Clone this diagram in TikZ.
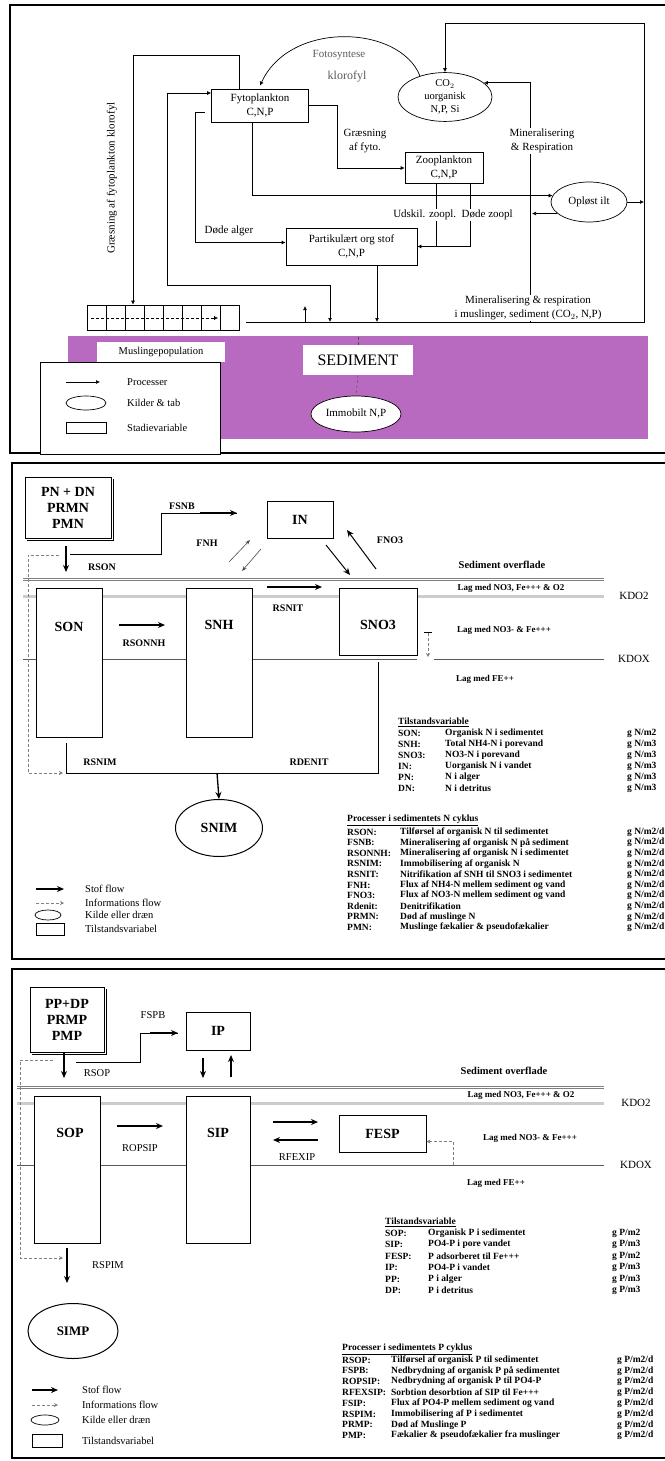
\documentclass[tikz,border=0pt]{standalone}
\usepackage{fontspec}
\setmainfont{Liberation Serif}
\usetikzlibrary{arrows.meta,calc,positioning,shapes.geometric}
\definecolor{sedcol}{RGB}{184,106,192}

\begin{document}
\begin{tikzpicture}[x=1pt,y=-1pt,
	lbl/.style={inner sep=0pt,align=center,font=\fontsize{11}{14}\selectfont},
	var/.style={draw,line width=0.7pt,fill=white,inner sep=0pt,align=center,font=\fontsize{11}{14}\selectfont},
	kilde/.style={draw,ellipse,line width=0.7pt,fill=white,inner sep=0pt,align=center},
	proc/.style={line width=0.7pt,-{Latex[length=4pt,width=4pt]}},
	flow/.style={line width=1.3pt,-{Stealth[length=7pt,width=6pt]}},
	info/.style={gray,densely dashed,line width=0.6pt,-{Stealth[length=4pt,width=4pt]}},
	tvar/.style={draw,line width=1pt,fill=white,inner sep=0pt},
	bnavn/.style={inner sep=0pt,align=center,font=\bfseries\fontsize{14}{16}\selectfont},
	rate/.style={inner sep=0pt,font=\bfseries\fontsize{10}{12}\selectfont},
	ratep/.style={inner sep=0pt,font=\fontsize{10.5}{12}\selectfont},
	lag/.style={inner sep=0pt,font=\bfseries\fontsize{9}{10}\selectfont},
	kd/.style={inner sep=0pt,font=\fontsize{11}{12}\selectfont},
	tab/.style={inner sep=0pt,anchor=west,font=\bfseries\fontsize{9.5}{10}\selectfont},
	leg/.style={inner sep=0pt,anchor=west,font=\fontsize{10.5}{12}\selectfont},
	surf/.style={gray,line width=3pt},
	kdo/.style={gray!40,line width=3pt},
	kdx/.style={gray!70!black,line width=0.8pt}]

\useasboundingbox (0,0) rectangle (664,1461);

%% ---------- model 1 ----------
\draw[line width=1.5pt] (10,5) rectangle (670,453);
\fill[sedcol] (68,336) rectangle (648,439);

\node[var,minimum width=97,minimum height=33] (fyto) at (260,105.5) {Fytoplankton\\C,N,P};
\node[kilde,minimum width=94,minimum height=48,font=\fontsize{10.5}{13}\selectfont] (co2) at (445,97) {CO$_2$\\uorganisk\\N,P, Si};
\node[var,minimum width=78,minimum height=31] (zoo) at (444,168) {Zooplankton\\C,N,P};
\node[kilde,minimum width=76,minimum height=40,font=\fontsize{11}{13}\selectfont] (ilt) at (589,202) {Opløst ilt};
\node[var,minimum width=131,minimum height=37] (part) at (351.5,246.5) {Partikulært org stof\\C,N,P};
\node[draw,line width=0.7pt,minimum width=152,minimum height=25,inner sep=0pt] (mus) at (163,317.5) {};
\foreach \k in {1,...,7} \draw[line width=0.5pt] (87+19*\k,305) -- (87+19*\k,330);
\draw[densely dashed,-{Latex[length=4pt,width=4pt]}] (91,318) -- (218,318);

\node[fill=white,minimum width=128,minimum height=20,inner sep=0pt,font=\fontsize{10.5}{12}\selectfont] (mpop) at (161,352) {Muslingepopulation};
\node[fill=white,minimum width=110,minimum height=30,inner sep=0pt,font=\fontsize{16}{18}\selectfont] (sed) at (358,360) {SEDIMENT};
\node[kilde,minimum width=90,minimum height=36,font=\fontsize{11}{13}\selectfont] (imm) at (356,414) {Immobilt N,P};
\draw[densely dashed,gray!60!black] (sed.north) -- (sed.north |- 0,336);
\draw[densely dashed,gray!60!black] (sed.south) -- (imm.north);

% forbindelser
\coordinate (rt) at (644,23);
\coordinate (rb) at (644,322);
\coordinate (ml) at (246,322);
\draw[line width=0.7pt] (ml) -- (rb) -- (rt);
\draw[proc] (rt) -- (co2.north |- rt) -- (co2.north);
\draw[proc] (co2.140) .. controls (400,25) and (290,20) .. ([yshift=3pt]fyto.north);
\draw[proc] (530,322) |- (co2.20);
\draw[proc] (ilt.east) -- (ilt.east -| rt);
\draw[proc] (ilt.200) -- (ilt.200 -| 532,0);
\draw[proc] ([xshift=-8pt]fyto.south) |- (ilt.170);
\draw[proc] (fyto.east) -| (337,168) -- (zoo.west);
\draw[line width=0.7pt] (zoo.south -| 436,0) -- (436,247);
\draw[proc] (zoo.south -| 470,0) |- (part.east);
\draw[line width=0.7pt] (195,112) -- (205,112);
\draw[proc] (195,112) |- ([yshift=4pt]part.west);
\draw[proc] (part.south -| 377,0) -- (377,322);
\coordinate (ll) at (167,93);
\draw[proc] (ll) -- (fyto.west |- ll);
\draw[proc] (ll) |- (330,285) -- (330,322);
\draw[proc] (fyto.north -| 239,0) |- (133,55) -- (mus.north -| 133,0);
\draw[proc] (305,322) -- (305,306);

\node[lbl,text=gray!70!black] (foto) at (339,55) {Fotosyntese};
\node[lbl,text=gray!70!black,font=\fontsize{12}{14}\selectfont] (klor) at (347,77) {klorofyl};
\node[lbl] (grae) at (365,141) {Græsning\\af fyto.};
\node[lbl,fill=white,inner sep=1pt] (mres) at (542,141) {Mineralisering\\\& Respiration};
\node[lbl,fill=white,inner sep=1pt] (udsk) at (453,215) {Udskil. zoopl.\ \ Døde zoopl};
\node[lbl] (dalg) at (229,231) {Døde alger};
\node[lbl,rotate=90] (grfk) at (112,178) {Græsning af fytoplankton klorofyl};
\node[lbl,fill=white,inner sep=1pt] (mmus) at (528,308) {Mineralisering \& respiration\\i muslinger, sediment (CO$_2$, N,P)};

% signaturer
\node[draw,fill=white,line width=0.7pt,minimum width=180,minimum height=92,anchor=north west] (leg1) at (40,362) {};
\draw[proc] (66,382) -- (100,382);
\node[leg] (lp1) at (127,382) {Processer};
\node[kilde,minimum width=40,minimum height=14] (lk1) at (86,403) {};
\node[leg] (lk1t) at (127,403) {Kilder \& tab};
\node[draw,line width=0.7pt,minimum width=40,minimum height=11,inner sep=0pt] (ls1) at (86,428) {};
\node[leg] (ls1t) at (127,428) {Stadievariable};

%% ---------- model 2 (N) ----------
\draw[line width=1.5pt] (12,463) rectangle (670,959);

\draw[surf] (23,579) -- (604,579);
\draw[white,line width=0.8pt] (23,579) -- (604,579);
\draw[kdo] (23,596) -- (604,596);
\draw[kdx] (23,659) -- (417,659) (434,659) -- (604,659);

\node[tvar,minimum width=86,minimum height=61,bnavn] (pn) at (68,507.5) {PN + DN\\PRMN\\PMN};
\draw[line width=1pt] ([xshift=2pt,yshift=-2pt]pn.north east) -- ([xshift=2pt,yshift=-2pt]pn.south east) -- ([xshift=2pt,yshift=-2pt]pn.south west);
\node[tvar,minimum width=66,minimum height=37,bnavn] (in) at (300,519.5) {IN};
\node[tvar,minimum width=66,minimum height=149] (son) at (69,662.5) {};
\node[tvar,minimum width=66,minimum height=149] (snh) at (219,662.5) {};
\node[tvar,minimum width=78,minimum height=67] (sno) at (378,621.5) {};
\node[bnavn] (sont) at (69,627) {SON};
\node[bnavn] (snht) at (219,625) {SNH};
\node[bnavn] (snot) at (378,625) {SNO3};
\node[kilde,minimum width=87,minimum height=57,line width=1pt,font=\bfseries\fontsize{14}{16}\selectfont] (snim) at (219,828) {SNIM};

\coordinate (fsnb) at (237,513);
\draw[line width=1pt] (70,554) -| (161,513) -- (fsnb);
\draw[flow] (200,513) -- (fsnb);
\draw[flow] (66,546) -- (66,572);
\draw[info] (59,555) -- (28,555) -- (28,773) -- (63,773);
\draw[gray!60!black,line width=0.6pt,-{Stealth[length=5pt]}] (229,562) -- (250,540);
\draw[gray!60!black,line width=0.6pt,-{Stealth[length=5pt]}] (261,549) -- (242,571);
\draw[flow,line width=1pt] (326,545) -- (350,575);
\draw[flow,line width=1pt] (376,569) -- (347,530);
\draw[flow] (119,625) -- (165,625);
\draw[flow] (267,587) -- (322,587);
\draw[line width=0.5pt] (424,632) -- (432,632);
\draw[info] (428,633) -- (428,657);
\draw[line width=1pt] (66,743) -- (66,773) -- (378,773) -- (378,662);
\draw[flow] (217,773) -- (snim.north);

\node[rate] (rson) at (102,567) {RSON};
\node[rate] (rfsnb) at (182,506) {FSNB};
\node[rate] (rfnh) at (207,543) {FNH};
\node[rate] (rfno) at (390,540) {FNO3};
\node[rate] (rsonnh) at (144,643) {RSONNH};
\node[rate] (rsnit) at (288,608) {RSNIT};
\node[rate] (rsnim) at (100,762) {RSNIM};
\node[rate] (rdenit) at (309,762) {RDENIT};
\node[lag,font=\bfseries\fontsize{10.5}{12}\selectfont] (ovf2) at (502,565) {Sediment overflade};
\node[lag] (lo2) at (511,588) {Lag med NO3, Fe+++ \& O2};
\node[lag] (lno2) at (504,630) {Lag med NO3- \& Fe+++};
\node[lag] (lfe2) at (485,679) {Lag med FE++};
\node[kd] (kdo2) at (634,596) {KDO2};
\node[kd] (kdox2) at (634,659) {KDOX};

% signaturer
\draw[flow] (36,889) -- (64,889);
\node[leg] (lsf2) at (85,889) {Stof flow};
\draw[info] (36,903) -- (64,903);
\node[leg] (lif2) at (85,903) {Informations flow};
\node[kilde,minimum width=26,minimum height=10] (lk2) at (48,915) {};
\node[leg] (lk2t) at (85,915) {Kilde eller dræn};
\node[draw,line width=0.7pt,minimum width=28,minimum height=12,inner sep=0pt] (ls2) at (50,929) {};
\node[leg] (ls2t) at (85,929) {Tilstandsvariabel};

% tabeller
\node[tab] (tvn) at (398,722) {\underline{Tilstandsvariable}};
\foreach \c/\d/\u [count=\i from 0] in {SON:/{Organisk N i sedimentet}/{g N/m2},
	SNH:/{Total NH4-N i porevand}/{g N/m3}, SNO3:/{NO3-N i porevand}/{g N/m3},
	IN:/{Uorganisk N i vandet}/{g N/m3}, PN:/{N i alger}/{g N/m3}, DN:/{N i detritus}/{g N/m3}}
{
	\node[tab] (tnc\i) at (398,733+11*\i) {\c};
	\node[tab] (tnd\i) at (445,733+11*\i) {\d};
	\node[tab] (tnu\i) at (627,733+11*\i) {\u};
}
\node[tab] (pvn) at (347,820) {\underline{Processer i sedimentets N cyklus}};
\foreach \c/\d [count=\i from 0] in {RSON:/{Tilførsel af organisk N til sedimentet},
	FSNB:/{Mineralisering af organisk N på sediment},
	RSONNH:/{Mineralisering af organisk N i sedimentet},
	RSNIM:/{Immobilisering af organisk N},
	RSNIT:/{Nitrifikation af SNH til SNO3 i sedimentet},
	FNH:/{Flux af NH4-N mellem sediment og vand},
	FNO3:/{Flux af NO3-N mellem sediment og vand},
	Rdenit:/{Denitrifikation}, PRMN:/{Død af muslinge N},
	PMN:/{Muslinge fækalier \& pseudofækalier}}
{
	\node[tab] (pnc\i) at (347,832+10.6*\i) {\c};
	\node[tab] (pnd\i) at (400,832+10.6*\i) {\d};
	\node[tab] (pnu\i) at (627,832+10.6*\i) {g N/m2/d};
}

%% ---------- model 3 (P) ----------
\draw[line width=1.5pt] (12,969) rectangle (670,1458);

\draw[surf] (17,1087) -- (604,1087);
\draw[white,line width=0.8pt] (17,1087) -- (604,1087);
\draw[kdo] (17,1103) -- (604,1103);
\draw[kdx] (17,1165) -- (604,1165);

\node[tvar,minimum width=74,minimum height=65,bnavn] (pp) at (67,1019.5) {PP+DP\\PRMP\\PMP};
\draw[line width=1pt] ([xshift=2pt,yshift=-2pt]pp.north east) -- ([xshift=2pt,yshift=-2pt]pp.south east) -- ([xshift=2pt,yshift=-2pt]pp.south west);
\node[tvar,minimum width=64,minimum height=38,bnavn] (ip) at (218,1031) {IP};
\node[tvar,minimum width=66,minimum height=147] (sop) at (67,1169.5) {};
\node[tvar,minimum width=64,minimum height=147] (sip) at (218,1169.5) {};
\node[tvar,minimum width=87,minimum height=37,bnavn] (fesp) at (382.5,1133.5) {FESP};
\node[bnavn] (sopt) at (70,1133) {SOP};
\node[bnavn] (sipt) at (218,1133) {SIP};
\node[kilde,minimum width=90,minimum height=55,line width=1pt,font=\bfseries\fontsize{13}{15}\selectfont] (simp) at (73,1331) {SIMP};

\coordinate (fspb) at (178,1033);
\draw[line width=1pt] (76,1062) -| (140,1033) -- (fspb);
\draw[flow] (150,1033) -- (fspb);
\draw[flow] (64,1053) -- (64,1078);
\draw[info] (53,1060) -- (20,1060) -- (20,1258) -- (63,1258);
\draw[flow] (203,1058) -- (203,1078);
\draw[flow] (231,1077) -- (231,1055);
\draw[flow] (117,1126) -- (163,1126);
\draw[flow] (273,1122) -- (318,1122);
\draw[flow] (318,1140) -- (273,1140);
\draw[info] (453,1165) |- ([yshift=-8pt]fesp.east);
\draw[flow] (67,1248) -- (67,1283);

\node[ratep] (rsop) at (97,1073) {RSOP};
\node[ratep] (rfspb) at (153,1015) {FSPB};
\node[ratep] (ropsip) at (140,1148) {ROPSIP};
\node[ratep] (rfexip) at (297,1157) {RFEXIP};
\node[ratep] (rspim) at (108,1265) {RSPIM};
\node[lag,font=\bfseries\fontsize{10.5}{12}\selectfont] (ovf3) at (504,1071) {Sediment overflade};
\node[lag] (lo3) at (521,1095) {Lag med NO3, Fe+++ \& O2};
\node[lag] (lno3) at (530,1138) {Lag med NO3- \& Fe+++};
\node[lag] (lfe3) at (496,1183) {Lag med FE++};
\node[kd] (kdo3) at (636,1103) {KDO2};
\node[kd] (kdox3) at (636,1165) {KDOX};

% signaturer
\draw[flow] (32,1390) -- (58,1390);
\node[leg] (lsf3) at (82,1390) {Stof flow};
\draw[info] (32,1405) -- (58,1405);
\node[leg] (lif3) at (82,1405) {Informations flow};
\node[kilde,minimum width=28,minimum height=10] (lk3) at (45,1420) {};
\node[leg] (lk3t) at (82,1420) {Kilde eller dræn};
\node[draw,line width=0.7pt,minimum width=30,minimum height=13,inner sep=0pt] (ls3) at (47,1441) {};
\node[leg] (ls3t) at (82,1441) {Tilstandsvariabel};

% tabeller
\node[tab] (tvp) at (385,1222) {\underline{Tilstandsvariable}};
\foreach \c/\d/\u [count=\i from 0] in {SOP:/{Organisk P i sedimentet}/{g P/m2},
	SIP:/{PO4-P i pore vandet}/{g P/m3}, FESP:/{P adsorberet til Fe+++}/{g P/m2},
	IP:/{PO4-P i vandet}/{g P/m3}, PP:/{P i alger}/{g P/m3}, DP:/{P i detritus}/{g P/m3}}
{
	\node[tab] (tpc\i) at (385,1233+11.5*\i) {\c};
	\node[tab] (tpd\i) at (428,1233+11.5*\i) {\d};
	\node[tab] (tpu\i) at (612,1233+11.5*\i) {\u};
}
\node[tab] (pvp) at (342,1349) {\underline{Processer i sedimentets P cyklus}};
\foreach \c/\d [count=\i from 0] in {RSOP:/{Tilførsel af organisk P til sedimentet},
	FSPB:/{Nedbrydning af organisk P på sedimentet},
	ROPSIP:/{Nedbrydning af organisk P til PO4-P},
	RFEXSIP:/{Sorbtion desorbtion af SIP til Fe+++},
	FSIP:/{Flux af PO4-P mellem sediment og vand},
	RSPIM:/{Immobilisering af P i sedimentet},
	PRMP:/{Død af Muslinge P},
	PMP:/{Fækalier \& pseudofækalier fra muslinger}}
{
	\node[tab] (ppc\i) at (342,1360+10.8*\i) {\c};
	\node[tab] (ppd\i) at (391,1360+10.8*\i) {\d};
	\node[tab] (ppu\i) at (617,1360+10.8*\i) {g P/m2/d};
}
\end{tikzpicture}
\end{document}
